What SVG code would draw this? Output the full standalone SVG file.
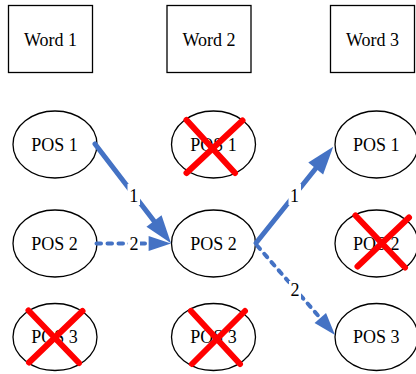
<svg xmlns="http://www.w3.org/2000/svg" width="416" height="374" viewBox="0 0 416 374">
<style>
  .box{fill:#fff;stroke:#000;stroke-width:1.3}
  .ell{fill:#fff;stroke:#000;stroke-width:1.3}
  text{font-family:'Liberation Serif',serif;font-size:18px;fill:#000;text-anchor:middle}
  .e{fill:none;stroke:#4472C4;stroke-linecap:round}
  .solid{stroke-width:5}
  .dash{stroke-width:4;stroke-dasharray:4.5 6.5}
  .x{stroke:#FF0000;stroke-width:6;stroke-linecap:round}
  .lb{fill:#fff}
</style>
<defs>
  <marker id="ah" markerUnits="strokeWidth" markerWidth="5.6" markerHeight="3.8" refX="0" refY="1.9" orient="auto" overflow="visible">
    <path d="M0,0 L5.6,1.9 L0,3.8 z" fill="#4472C4"/>
  </marker>
</defs>
<g font-family="Liberation Serif, serif" font-size="18">
<g id="word1"><rect class="box" x="8.5" y="5.5" width="84" height="67"/><text x="50.5" y="45.5">Word 1</text></g>
<g id="word2"><rect class="box" x="167" y="5.5" width="84" height="67"/><text x="209" y="45.5">Word 2</text></g>
<g id="word3"><rect class="box" x="330.5" y="5.5" width="84" height="67"/><text x="372.5" y="45.5">Word 3</text></g>

<g id="w1pos1"><ellipse class="ell" cx="55" cy="144.5" rx="42" ry="33.5"/><text x="54.5" y="150.5">POS 1</text></g>
<g id="w1pos2"><ellipse class="ell" cx="55" cy="243.5" rx="42" ry="33.5"/><text x="54.5" y="249.5">POS 2</text></g>
<g id="w1pos3"><ellipse class="ell" cx="55" cy="337" rx="42" ry="33.5"/><text x="54.5" y="343">POS 3</text><line class="x" x1="28.5" y1="310.5" x2="79" y2="363"/><line class="x" x1="82.5" y1="311" x2="29" y2="362.5"/></g>

<g id="w2pos1"><ellipse class="ell" cx="213.5" cy="144.5" rx="42" ry="33.5"/><text x="213.5" y="150.5">POS 1</text><line class="x" x1="186.5" y1="120" x2="235" y2="173"/><line class="x" x1="242.5" y1="120.5" x2="186.5" y2="173"/></g>
<g id="w2pos2"><ellipse class="ell" cx="213.5" cy="243.5" rx="42" ry="33.5"/><text x="213.5" y="249.5">POS 2</text></g>
<g id="w2pos3"><ellipse class="ell" cx="213.5" cy="337" rx="42" ry="33.5"/><text x="213.5" y="343">POS 3</text><line class="x" x1="191" y1="311" x2="240" y2="364"/><line class="x" x1="245" y1="311" x2="192" y2="364"/></g>

<g id="w3pos1"><ellipse class="ell" cx="376.5" cy="144.5" rx="41.5" ry="33.5"/><text x="376.2" y="150.5">POS 1</text></g>
<g id="w3pos2"><ellipse class="ell" cx="376.5" cy="243.5" rx="41.5" ry="33.5"/><text x="376.2" y="249.5">POS 2</text><line class="x" x1="355.5" y1="215.5" x2="405" y2="267.5"/><line class="x" x1="409" y1="217.5" x2="357.5" y2="266.5"/></g>
<g id="w3pos3"><ellipse class="ell" cx="376.5" cy="337" rx="41.5" ry="33.5"/><text x="376.2" y="343">POS 3</text></g>

<g id="connectors">
  <path class="e solid" d="M95,144 L154,221.1" marker-end="url(#ah)"/>
  <path class="e dash" d="M96.5,243.5 L148.6,243.5" marker-end="url(#ah)"/>
  <path class="e solid" d="M256,243 L315.7,168.5" marker-end="url(#ah)"/>
  <path class="e dash" d="M257,245.5 L320.3,318.1" marker-end="url(#ah)"/>
  <rect class="lb" x="127.5" y="184" width="12.5" height="21"/>
  <text x="133.8" y="201.7">1</text>
  <rect class="lb" x="128" y="233.5" width="12" height="19"/>
  <text x="134" y="249.5">2</text>
  <rect class="lb" x="288.5" y="184" width="12.5" height="21"/>
  <text x="294.5" y="201.7">1</text>
  <rect class="lb" x="289" y="281" width="12" height="19"/>
  <text x="295" y="296">2</text>
</g>
</g>
</svg>
